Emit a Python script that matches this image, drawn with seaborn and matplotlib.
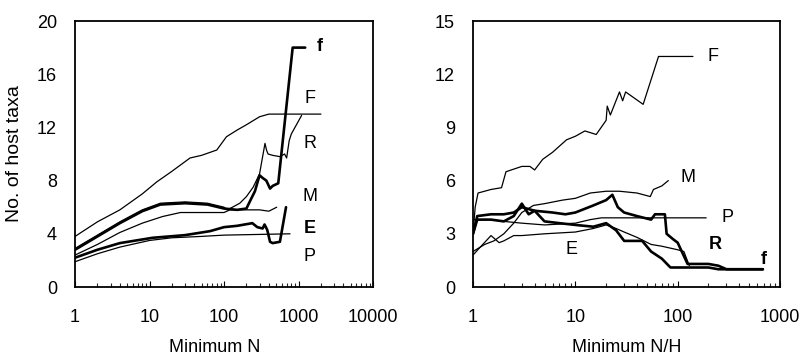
import numpy as np
import pandas as pd
import matplotlib
matplotlib.use("Agg")
import matplotlib.pyplot as plt
import seaborn as sns
from matplotlib.ticker import LogLocator, NullFormatter

sns.set_theme(style="white")
plt.rcParams['font.family'] = ['Liberation Sans', 'DejaVu Sans']

# ---------------- Left panel: Minimum N ----------------
L_F_x = [1, 2, 4, 8, 12.5, 20, 35, 50, 80, 108, 150, 200, 300, 400, 2000]
L_F_y = [3.8, 4.9, 5.8, 7.0, 7.9, 8.7, 9.7, 9.9, 10.3, 11.3, 11.8, 12.2, 12.8, 13.0, 13.0]
L_R_x = [1, 2, 4, 8, 14, 30, 60, 100, 110, 130, 163, 200, 246, 300, 355, 372, 390, 450, 563, 650, 693, 750, 800, 1100]
L_R_y = [2.9, 3.9, 4.9, 5.8, 6.3, 6.4, 6.3, 6.0, 5.8, 6.0, 6.3, 6.8, 7.5, 8.5, 10.8, 10.3, 10.0, 9.9, 9.8, 10.0, 9.7, 11.0, 11.5, 12.9]
L_f_x = [1, 2, 4, 8, 14, 30, 60, 100, 150, 200, 230, 260, 300, 330, 370, 415, 450, 535, 835, 1230]
L_f_y = [2.8, 3.8, 4.8, 5.7, 6.2, 6.3, 6.2, 5.9, 5.8, 5.9, 6.6, 7.2, 8.4, 8.2, 8.0, 7.4, 7.6, 7.8, 18.0, 18.0]
L_M_x = [1, 2, 4, 8, 15, 26, 50, 100, 120, 200, 300, 400, 510]
L_M_y = [2.4, 3.2, 4.1, 4.8, 5.3, 5.6, 5.6, 5.6, 5.8, 5.8, 5.8, 5.7, 6.0]
L_E_x = [1, 2, 4, 11, 30, 65, 100, 150, 240, 280, 330, 350, 380, 415, 450, 563, 680]
L_E_y = [2.2, 2.8, 3.3, 3.7, 3.9, 4.2, 4.5, 4.6, 4.8, 4.5, 4.4, 4.7, 4.3, 3.4, 3.3, 3.4, 6.0]
L_P_x = [1, 2, 4, 10, 20, 48, 100, 770]
L_P_y = [1.9, 2.5, 3.0, 3.5, 3.7, 3.8, 3.9, 4.0]

# ---------------- Right panel: Minimum N/H ----------------
R_F_x = [1, 1.05, 1.12, 1.5, 1.9, 2.1, 3, 3.6, 4.0, 4.8, 6, 8.2, 10, 12.4, 16, 20, 20.5, 22, 27, 29, 31, 46, 65, 141]
R_F_y = [3.0, 4.5, 5.3, 5.5, 5.6, 6.5, 6.8, 6.8, 6.6, 7.2, 7.6, 8.3, 8.5, 8.8, 8.6, 9.4, 10.2, 9.7, 11.0, 10.5, 11.0, 10.3, 13.0, 13.0]
R_M_x = [1, 1.3, 1.6, 2, 2.5, 3, 3.9, 5, 7.5, 10, 14, 20, 27, 40, 54, 58, 70, 81]
R_M_y = [2.0, 2.4, 2.6, 3.0, 3.6, 4.2, 4.6, 4.7, 4.9, 5.0, 5.3, 5.4, 5.4, 5.3, 5.1, 5.5, 5.7, 6.0]
R_P_x = [1, 1.5, 2, 3, 5, 10, 14, 18, 190]
R_P_y = [3.8, 3.8, 3.7, 3.6, 3.5, 3.6, 3.8, 3.9, 3.9]
R_E_x = [1, 1.2, 1.5, 1.8, 2, 2.5, 3, 5, 10, 15, 20, 25, 30, 40, 55, 70, 100, 115, 130]
R_E_y = [1.8, 2.3, 2.9, 2.5, 2.6, 2.9, 2.9, 3.0, 3.1, 3.3, 3.5, 3.3, 3.1, 2.8, 2.4, 2.3, 2.1, 2.0, 1.2]
R_R_x = [1, 1.1, 1.5, 2, 2.5, 3, 4, 6, 8, 10, 15, 20, 23, 26, 30, 40, 55, 60, 75, 78, 90, 100, 125, 150, 200, 250, 300, 680]
R_R_y = [3.0, 4.0, 4.1, 4.1, 4.2, 4.5, 4.3, 4.2, 4.1, 4.2, 4.6, 4.9, 5.2, 4.5, 4.2, 4.0, 3.8, 4.1, 4.1, 3.0, 2.7, 2.5, 1.3, 1.3, 1.3, 1.2, 1.0, 1.0]
R_f_x = [1, 1.1, 1.5, 2, 2.5, 3, 3.5, 4, 5, 7, 10, 15, 20, 25, 30, 45, 55, 70, 85, 100, 200, 250, 680]
R_f_y = [3.0, 3.8, 3.8, 3.7, 4.0, 4.7, 4.1, 4.3, 3.7, 3.6, 3.5, 3.4, 3.6, 3.2, 2.6, 2.6, 2.0, 1.6, 1.1, 1.1, 1.1, 1.0, 1.0]

THIN, THICK = 0.9, 1.9
left_series = [
    ("F", L_F_x, L_F_y, THIN), ("R", L_R_x, L_R_y, THIN), ("f", L_f_x, L_f_y, THICK),
    ("M", L_M_x, L_M_y, THIN), ("E", L_E_x, L_E_y, THICK), ("P", L_P_x, L_P_y, THIN),
]
right_series = [
    ("F", R_F_x, R_F_y, THIN), ("M", R_M_x, R_M_y, THIN), ("P", R_P_x, R_P_y, THIN),
    ("E", R_E_x, R_E_y, THIN), ("R", R_R_x, R_R_y, THICK), ("f", R_f_x, R_f_y, THICK),
]

left_labels = [("f", 1900, 18.1, True), ("F", 1420, 14.2, False), ("R", 1420, 10.8, False),
               ("M", 1420, 6.8, False), ("E", 1420, 4.4, True), ("P", 1420, 2.3, False)]
right_labels = [("F", 222, 13.0, False), ("M", 126, 6.2, False), ("P", 310, 3.9, False),
                ("R", 232, 2.4, True), ("f", 700, 1.55, True), ("E", 9.2, 2.1, False)]

FS = 13

fig = plt.figure(figsize=(8.06, 3.61), dpi=100)
axL = fig.add_axes([75/806, 1-287/361, (373-75)/806, (287-21)/361])
axR = fig.add_axes([473/806, 1-287/361, (780-473)/806, (287-21)/361])

def draw(ax, series, labels, xmax, ymax, ystep, xlabel):
    for name, xs, ys, lw in series:
        df = pd.DataFrame({"x": xs, "y": ys})
        sns.lineplot(data=df, x="x", y="y", ax=ax, color="black", lw=lw,
                     estimator=None, sort=False)
    ax.set_xscale("log")
    ax.set_xlim(1, xmax)
    ax.set_ylim(0, ymax)
    yt = np.arange(0, ymax + 0.1, ystep)
    ax.set_yticks(yt)
    ax.set_yticklabels([str(int(v)) for v in yt])
    ax.xaxis.set_minor_locator(LogLocator(base=10, subs=np.arange(2, 10), numticks=20))
    ax.xaxis.set_minor_formatter(NullFormatter())
    decs = int(round(np.log10(xmax)))
    ax.set_xticks([10**k for k in range(decs + 1)])
    ax.set_xticklabels([str(10**k) for k in range(decs + 1)])
    ax.tick_params(axis="x", which="major", direction="in", length=4, width=0.8,
                   pad=16, labelsize=FS, colors="black", bottom=True)
    ax.tick_params(axis="x", which="minor", direction="in", length=3, width=0.8,
                   bottom=True)
    ax.tick_params(axis="y", length=0, pad=13, labelsize=FS, colors="black")
    for s in ax.spines.values():
        s.set_color("black")
        s.set_linewidth(1.3)
    ax.set_xlabel(xlabel, fontsize=FS, labelpad=9, color="black")
    ax.set_ylabel("")
    for txt, x, y, bold in labels:
        ax.text(x, y, txt, fontsize=13, fontweight="bold" if bold else "normal",
                ha="center", va="center", color="black")

draw(axL, left_series, left_labels, 10000, 20, 4, "Minimum N")
draw(axR, right_series, right_labels, 1000, 15, 3, "Minimum N/H")
axL.xaxis.label.set_x(0.47)
axL.set_ylabel("No. of host taxa", fontsize=14, labelpad=10, color="black")

fig.savefig("out.png", dpi=100, facecolor="white")
